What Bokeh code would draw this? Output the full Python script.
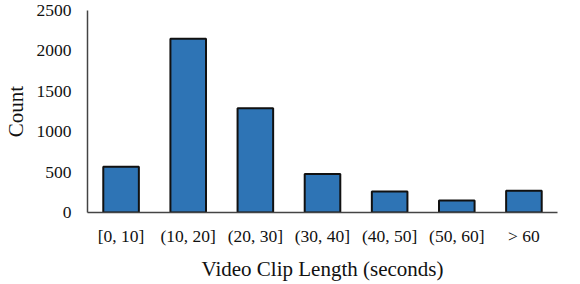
from bokeh.plotting import figure
from bokeh.models import ColumnDataSource, Range1d, SingleIntervalTicker
from bokeh.embed import file_html
from bokeh.resources import INLINE

categories = ["[0, 10]", "(10, 20]", "(20, 30]", "(30, 40]", "(40, 50]", "(50, 60]", "> 60"]
counts = [565, 2150, 1290, 475, 260, 150, 270]

source = ColumnDataSource(data=dict(cat=categories, count=counts))

p = figure(x_range=categories, width=564, height=283, output_backend="svg",
           toolbar_location=None, min_border_left=79, min_border_right=7,
           min_border_top=10, min_border_bottom=10)
p.y_range = Range1d(0, 2500)

p.vbar(x="cat", top="count", width=0.53, source=source,
       fill_color="#2E74B5", line_color="#111111", line_width=2)

p.xgrid.grid_line_color = None
p.ygrid.grid_line_color = None
p.outline_line_color = None

font = "Liberation Serif"
for ax in (p.xaxis[0], p.yaxis[0]):
    ax.major_tick_line_color = None
    ax.minor_tick_line_color = None
    ax.axis_line_color = "#444444"
    ax.axis_line_width = 1.5
    ax.major_label_text_font = font
    ax.major_label_text_font_size = "17.5px"
    ax.major_label_text_color = "#111111"
    ax.axis_label_text_font = font
    ax.axis_label_text_font_size = "21px"
    ax.axis_label_text_font_style = "normal"
    ax.axis_label_text_color = "#111111"

p.yaxis.ticker = SingleIntervalTicker(interval=500)
p.yaxis.major_label_standoff = 10
p.xaxis.major_label_standoff = 7
p.yaxis.axis_label = "Count"
p.xaxis.axis_label = "Video Clip Length (seconds)"
p.yaxis.axis_label_standoff = 6
p.xaxis.axis_label_standoff = 8

open("out.html", "w").write(file_html(p, INLINE))
